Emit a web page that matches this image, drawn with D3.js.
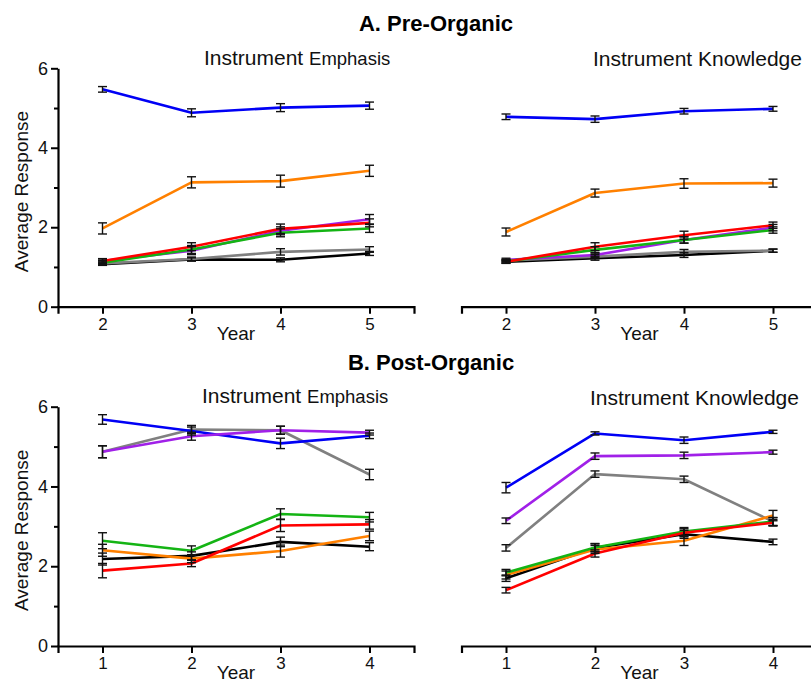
<!DOCTYPE html>
<html><head><meta charset="utf-8">
<script src="https://cdn.jsdelivr.net/npm/d3@7"></script>
<style>body{margin:0;background:#fff}svg{display:block;font-family:"Liberation Sans",Arial,sans-serif}</style>
</head><body><svg id="c" width="811" height="682"></svg>
<script>
// ---- data ----
const seriesKeys = ["black","gray","orange","blue","purple","green","red"];
const seriesColors = {black:"#000000",gray:"#808080",orange:"#ff8000",blue:"#0000f5",purple:"#a020e8",green:"#14b414",red:"#ff0000"};
const yearsPre = [2,3,4,5];
const yearsPost = [1,2,3,4];
const yTicks = [0,2,4,6];
const yMinor = [1,3,5];

const preEmphasisMean = {
  blue:[5.47,4.88,5.01,5.06], orange:[1.97,3.13,3.16,3.42], red:[1.15,1.51,1.96,2.11],
  green:[1.11,1.44,1.86,1.97], purple:[1.15,1.41,1.91,2.20], gray:[1.09,1.20,1.38,1.44], black:[1.07,1.19,1.18,1.34]};
const preEmphasisErr = {
  blue:[0.07,0.10,0.10,0.09], orange:[0.14,0.14,0.15,0.14], red:[0.05,0.10,0.12,0.10],
  green:[0.05,0.10,0.10,0.10], purple:[0.06,0.10,0.10,0.12], gray:[0.04,0.05,0.08,0.07], black:[0.03,0.04,0.05,0.05]};

const preKnowledgeMean = {
  blue:[4.78,4.72,4.92,4.98], orange:[1.88,2.86,3.10,3.11], red:[1.13,1.51,1.80,2.05],
  green:[1.14,1.43,1.68,1.93], purple:[1.18,1.30,1.68,1.99], gray:[1.16,1.26,1.38,1.41], black:[1.13,1.22,1.30,1.41]};
const preKnowledgeErr = {
  blue:[0.07,0.08,0.07,0.06], orange:[0.10,0.10,0.12,0.10], red:[0.04,0.10,0.10,0.08],
  green:[0.04,0.08,0.08,0.08], purple:[0.04,0.06,0.08,0.08], gray:[0.03,0.05,0.06,0.04], black:[0.03,0.05,0.06,0.04]};

const postEmphasisMean = {
  blue:[5.68,5.39,5.08,5.27], purple:[4.87,5.26,5.41,5.35], gray:[4.87,5.43,5.41,4.30],
  green:[2.64,2.39,3.31,3.23], orange:[2.40,2.19,2.38,2.76], black:[2.18,2.26,2.61,2.49], red:[1.89,2.07,3.02,3.05]};
const postEmphasisErr = {
  blue:[0.12,0.10,0.13,0.07], purple:[0.15,0.10,0.10,0.06], gray:[0.15,0.10,0.10,0.13],
  green:[0.20,0.12,0.13,0.12], orange:[0.15,0.10,0.15,0.12], black:[0.15,0.10,0.12,0.10], red:[0.18,0.08,0.15,0.12]};

const postKnowledgeMean = {
  blue:[3.97,5.33,5.16,5.37], purple:[3.14,4.76,4.78,4.86], gray:[2.46,4.31,4.18,3.12],
  green:[1.84,2.47,2.87,3.12], orange:[1.78,2.42,2.64,3.27], black:[1.70,2.46,2.80,2.61], red:[1.40,2.32,2.84,3.09]};
const postKnowledgeErr = {
  blue:[0.13,0.04,0.08,0.04], purple:[0.07,0.08,0.08,0.05], gray:[0.08,0.08,0.08,0.10],
  green:[0.08,0.10,0.10,0.10], orange:[0.10,0.10,0.12,0.13], black:[0.08,0.10,0.10,0.07], red:[0.07,0.09,0.10,0.08]};

// ---- layout ----
const svg = d3.select("#c");
const panels = [
  {years:yearsPre, mean:preEmphasisMean, err:preEmphasisErr, x0:58, x1:414, yBot:306.7, yTop:68.3, yAxis:true, title:"Emphasis", tx:204, ty:65},
  {years:yearsPre, mean:preKnowledgeMean, err:preKnowledgeErr, x0:461.5, x1:817.5, yBot:306.7, yTop:68.3, yAxis:false, title:"Knowledge", tx:593, ty:66},
  {years:yearsPost, mean:postEmphasisMean, err:postEmphasisErr, x0:58, x1:414, yBot:646, yTop:406.7, yAxis:true, title:"Emphasis", tx:202, ty:403},
  {years:yearsPost, mean:postKnowledgeMean, err:postKnowledgeErr, x0:461.5, x1:817.5, yBot:646, yTop:406.7, yAxis:false, title:"Knowledge", tx:590, ty:405}
];

svg.append("text").attr("x",436).attr("y",31).attr("text-anchor","middle")
  .attr("font-size",22).attr("font-weight","bold").text("A. Pre-Organic");
svg.append("text").attr("x",431).attr("y",370).attr("text-anchor","middle")
  .attr("font-size",22).attr("font-weight","bold").text("B. Post-Organic");

panels.forEach(p=>{
  const g = svg.append("g");
  const x = d3.scaleLinear().domain([p.years[0]-0.5, p.years[3]+0.5]).range([p.x0,p.x1]);
  const y = d3.scaleLinear().domain([0,6]).range([p.yBot,p.yTop]);

  // x axis
  const xa = g.append("g").attr("transform",`translate(0,${p.yBot})`)
    .call(d3.axisBottom(x).tickValues(p.years).tickFormat(d3.format("d")).tickSize(7).tickPadding(4));
  xa.select(".domain").attr("stroke","#000").attr("stroke-width",2.2);
  xa.selectAll(".tick line").attr("stroke-width",2);
  xa.selectAll(".tick text").attr("font-size",17).attr("fill","#111").attr("font-family","Liberation Sans, Arial, sans-serif");

  if (p.yAxis) {
    const ya = g.append("g").attr("transform",`translate(${p.x0},0)`)
      .call(d3.axisLeft(y).tickValues(yTicks).tickFormat(d3.format("d")).tickSize(7).tickPadding(3).tickSizeOuter(0));
    ya.select(".domain").attr("stroke-width",2.2);
    ya.selectAll(".tick line").attr("stroke-width",2);
    ya.selectAll(".tick text").attr("font-size",18).attr("fill","#111").attr("font-family","Liberation Sans, Arial, sans-serif");
    const ym = g.append("g").attr("transform",`translate(${p.x0},0)`)
      .call(d3.axisLeft(y).tickValues(yMinor).tickFormat("").tickSize(4).tickSizeOuter(0));
    ym.select(".domain").remove();
    ym.selectAll(".tick line").attr("stroke-width",2);
    g.append("text").attr("transform",`translate(28,${(p.yBot+p.yTop)/2+4}) rotate(-90)`)
      .attr("text-anchor","middle").attr("font-size",19).attr("fill","#111").text("Average Response");
  }
  g.append("text").attr("x",(x(p.years[1])+x(p.years[2]))/2).attr("y",p.yBot+33)
    .attr("text-anchor","middle").attr("font-size",19).attr("fill","#111").text("Year");

  const t = g.append("text").attr("x",p.tx).attr("y",p.ty).attr("fill","#111").attr("font-size",21);
  t.append("tspan").text("Instrument ");
  t.append("tspan").attr("font-size", p.title==="Emphasis"?18.5:21).text(p.title);

  const line = d3.line().x((d,i)=>x(p.years[i])).y(d=>y(d));
  seriesKeys.forEach(k=>{
    g.append("path").datum(p.mean[k]).attr("d",line).attr("fill","none")
      .attr("stroke",seriesColors[k]).attr("stroke-width",2.6).attr("stroke-linejoin","round");
  });
  seriesKeys.forEach(k=>{
    p.mean[k].forEach((m,i)=>{
      const e = p.err[k][i], cx = x(p.years[i]);
      const eg = g.append("g").attr("stroke","#111").attr("stroke-width",1.4);
      eg.append("line").attr("x1",cx).attr("x2",cx).attr("y1",y(m-e)).attr("y2",y(m+e));
      eg.append("line").attr("x1",cx-4.5).attr("x2",cx+4.5).attr("y1",y(m-e)).attr("y2",y(m-e));
      eg.append("line").attr("x1",cx-4.5).attr("x2",cx+4.5).attr("y1",y(m+e)).attr("y2",y(m+e));
    });
  });
});
</script></body></html>
